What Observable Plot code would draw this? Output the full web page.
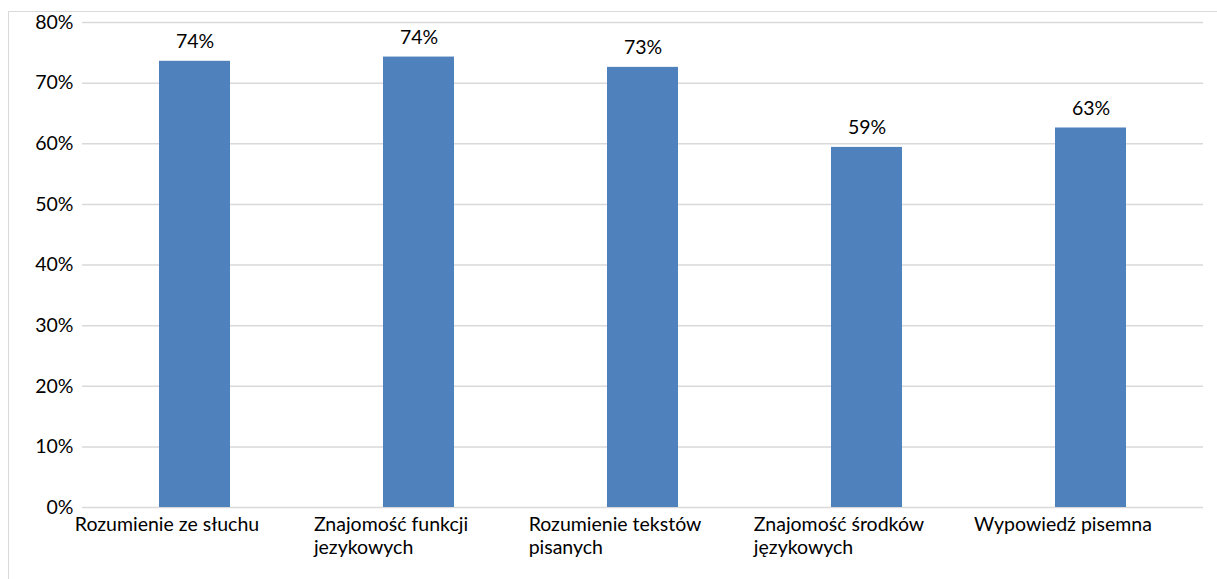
<!DOCTYPE html>
<html>
<head>
<meta charset="utf-8">
<script src="https://cdn.jsdelivr.net/npm/d3@7"></script>
<script src="https://cdn.jsdelivr.net/npm/@observablehq/plot@0.6"></script>
<style>
  html, body { margin: 0; padding: 0; background: #fff; }
  #wrap { position: relative; width: 1217px; height: 579px; overflow: hidden; }
  #border { position: absolute; left: 8px; top: 11px; width: 1300px; height: 700px;
            border-left: 1px solid #d9d9d9; border-top: 1px solid #d9d9d9; }
  #chart { position: absolute; left: 0; top: 0; }
</style>
</head>
<body>
<div id="wrap"><div id="border"></div><div id="chart"></div></div>
<script>
const categories = [
  "Rozumienie ze słuchu",
  "Znajomość funkcji\njezykowych",
  "Rozumienie tekstów\npisanych",
  "Znajomość środków\njęzykowych",
  "Wypowiedź pisemna"
];
const values = [0.736, 0.743, 0.726, 0.594, 0.626];
const yTicks = [0, 0.1, 0.2, 0.3, 0.4, 0.5, 0.6, 0.7, 0.8];

const data = categories.map((c, i) => ({category: c, value: values[i]}));
const font = "Lato, 'Open Sans', sans-serif";
const fontSize = 19.5;

// measure longest line of each label so multi-line blocks are left aligned
const ctx = document.createElement("canvas").getContext("2d");
ctx.font = `${fontSize}px Lato`;
const labelMarks = categories.map(c => {
  const w = d3.max(c.split("\n"), l => ctx.measureText(l).width);
  return Plot.text([c], {
    x: d => d, y: () => 0, text: d => d,
    textAnchor: "start", lineAnchor: "top", dx: -w / 2 - 28, dy: 7,
    fill: "#000", fontSize, lineHeight: 1.18
  });
});

const chart = Plot.plot({
  width: 1217,
  height: 579,
  marginLeft: 82,
  marginRight: 14,
  marginTop: 22,
  marginBottom: 72,
  style: {fontFamily: font, fontSize: fontSize + "px", color: "#000", background: "transparent"},
  x: {domain: categories, paddingInner: 0.683, paddingOuter: 0.3415, axis: null},
  y: {domain: [0, 0.8], ticks: yTicks, tickFormat: d3.format(".0%"), tickSize: 0, tickPadding: 9, label: null},
  marks: [
    Plot.gridY(yTicks, {stroke: "#d9d9d9", strokeOpacity: 1, strokeWidth: 1.5}),
    Plot.barY(data, {x: "category", y: "value", fill: "#4f81bd"}),
    Plot.text(data, {x: "category", y: "value", text: d => d3.format(".0%")(d.value),
                     lineAnchor: "bottom", dy: -13, fill: "#000", fontSize}),
    ...labelMarks
  ]
});
document.getElementById("chart").appendChild(chart);
</script>
</body>
</html>
